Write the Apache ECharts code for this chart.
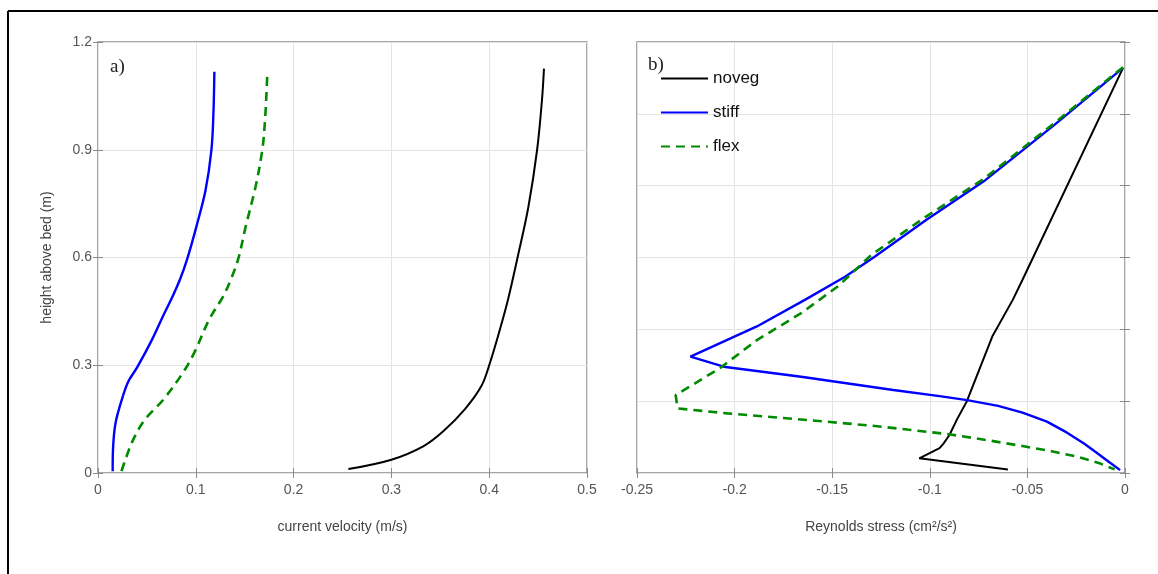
<!DOCTYPE html>
<html>
<head>
<meta charset="utf-8">
<script src="https://cdn.jsdelivr.net/npm/echarts@6/dist/echarts.min.js"></script>
<style>
    html, body { margin: 0; padding: 0; background: #fff; }
    #main { width: 1158px; height: 574px; }
</style>
</head>
<body>
<div id="main"></div>
<script>
// a) current velocity profiles (m/s) vs height above bed (m)
var velNovegX = [0.256, 0.300, 0.333, 0.353, 0.375, 0.392, 0.400, 0.411, 0.419, 0.429, 0.440, 0.449, 0.454, 0.456];
var velNovegY = [0.011, 0.037, 0.075, 0.116, 0.177, 0.242, 0.300, 0.400, 0.480, 0.600, 0.740, 0.900, 1.040, 1.126];
var velStiffX = [0.015, 0.0155, 0.018, 0.025, 0.031, 0.040, 0.055, 0.067, 0.076, 0.084, 0.091, 0.1006, 0.110, 0.116, 0.118, 0.119];
var velStiffY = [0.005, 0.075, 0.140, 0.210, 0.255, 0.294, 0.370, 0.440, 0.490, 0.540, 0.594, 0.686, 0.788, 0.900, 1.000, 1.117];
var velFlexX = [0.024, 0.028, 0.036, 0.048, 0.067, 0.087, 0.0986, 0.114, 0.128, 0.136, 0.1436, 0.151, 0.161, 0.168, 0.171, 0.173];
var velFlexY = [0.005, 0.037, 0.093, 0.149, 0.205, 0.280, 0.336, 0.429, 0.492, 0.540, 0.598, 0.686, 0.796, 0.900, 0.992, 1.103];

// b) Reynolds stress (cm2/s2) vs height above bed (m)
var rsNovegX = [-0.001, -0.0525, -0.0575, -0.068, -0.081, -0.086, -0.090, -0.093, -0.095, -0.1054, -0.060];
var rsNovegY = [1.128, 0.538, 0.482, 0.380, 0.200, 0.150, 0.105, 0.082, 0.069, 0.041, 0.010];
var rsStiffX = [-0.001, -0.036, -0.0714, -0.1017, -0.1281, -0.1432, -0.164, -0.1886, -0.2226, -0.2056, -0.1659, -0.1187, -0.095, -0.0809, -0.065, -0.0525, -0.040, -0.0299, -0.021, -0.0147, -0.008, -0.0025];
var rsStiffY = [1.128, 0.970, 0.816, 0.705, 0.603, 0.547, 0.482, 0.408, 0.324, 0.296, 0.268, 0.231, 0.214, 0.203, 0.187, 0.168, 0.143, 0.113, 0.082, 0.057, 0.030, 0.008];
var rsFlexX = [-0.001, -0.036, -0.072, -0.103, -0.130, -0.147, -0.1659, -0.1886, -0.2075, -0.2302, -0.2292, -0.2037, -0.1659, -0.1281, -0.0903, -0.070, -0.0525, -0.037, -0.0242, -0.013, -0.0053];
var rsFlexY = [1.130, 0.975, 0.820, 0.710, 0.607, 0.520, 0.445, 0.370, 0.292, 0.217, 0.180, 0.166, 0.149, 0.131, 0.108, 0.091, 0.075, 0.060, 0.045, 0.027, 0.010];

var seriesNames = ['noveg', 'stiff', 'flex'];
var velXTicks = { min: 0, max: 0.5, interval: 0.1 };
var rsXTicks = { min: -0.25, max: 0, interval: 0.05 };
var heightTicksA = { min: 0, max: 1.2, interval: 0.3 };
var heightTicksB = { min: 0, max: 1.2, interval: 0.2 };

var pairs = function (xs, ys) {
    return xs.map(function (x, i) { return [x, ys[i]]; });
};

var font = 'Liberation Sans, Arial, sans-serif';
var styles = {
    noveg: { color: '#000000', width: 2, type: 'solid' },
    stiff: { color: '#0000ff', width: 2.4, type: 'solid' },
    flex: { color: '#008a00', width: 2.6, type: [9, 6] }
};

var makeSeries = function (name, xs, ys, idx, smooth) {
    var st = styles[name];
    return {
        name: name,
        type: 'line',
        xAxisIndex: idx,
        yAxisIndex: idx,
        data: pairs(xs, ys),
        symbol: 'none',
        showSymbol: false,
        smooth: smooth,
        itemStyle: { color: st.color },
        lineStyle: { color: st.color, width: st.width, type: st.type }
    };
};

var tickStyle = { inside: true, length: 5, lineStyle: { color: '#8a8a8a', width: 1 } };
var splitStyle = { show: true, lineStyle: { color: '#e4e4e4', width: 1 } };
var labelStyle = { color: '#555', fontSize: 14, fontFamily: font };

var mainAxis = function (ticks, grid, extra) {
    var ax = {
        type: 'value',
        gridIndex: grid,
        min: ticks.min,
        max: ticks.max,
        interval: ticks.interval,
        axisLine: { show: false },
        axisTick: tickStyle,
        splitLine: splitStyle,
        axisLabel: labelStyle
    };
    for (var k in extra) { ax[k] = extra[k]; }
    return ax;
};

var mirrorAxis = function (ticks, grid, position) {
    return {
        type: 'value',
        gridIndex: grid,
        position: position,
        min: ticks.min,
        max: ticks.max,
        interval: ticks.interval,
        axisLine: { show: false },
        axisTick: tickStyle,
        splitLine: { show: false },
        axisLabel: { show: false }
    };
};

var nameStyle = { color: '#444', fontSize: 14, fontFamily: font };

var myChart = echarts.init(document.getElementById('main'));
var option = {
    animation: false,
    backgroundColor: '#fff',
    grid: [
        { left: 98, top: 42, width: 489, height: 431, show: true, borderColor: '#8a8a8a', borderWidth: 1.5, backgroundColor: 'transparent' },
        { left: 637, top: 42, width: 488, height: 431, show: true, borderColor: '#8a8a8a', borderWidth: 1.5, backgroundColor: 'transparent' }
    ],
    xAxis: [
        mainAxis(velXTicks, 0, { name: 'current velocity (m/s)', nameLocation: 'middle', nameGap: 47, nameTextStyle: nameStyle, axisLabel: { color: '#555', fontSize: 14, fontFamily: font, margin: 10 } }),
        mainAxis(rsXTicks, 1, {
            name: 'Reynolds stress (cm²/s²)', nameLocation: 'middle', nameGap: 47, nameTextStyle: nameStyle,
            axisLabel: { color: '#555', fontSize: 14, fontFamily: font, margin: 10, formatter: function (v) { return v === 0 ? '0' : String(Math.round(v * 100) / 100); } }
        }),
        mirrorAxis(velXTicks, 0, 'top'),
        mirrorAxis(rsXTicks, 1, 'top')
    ],
    yAxis: [
        mainAxis(heightTicksA, 0, { name: 'height above bed (m)', nameLocation: 'middle', nameGap: 44, nameTextStyle: nameStyle, axisLabel: { color: '#555', fontSize: 14, fontFamily: font, margin: 6 } }),
        mainAxis(heightTicksB, 1, { axisLabel: { show: false } }),
        mirrorAxis(heightTicksA, 0, 'right'),
        mirrorAxis(heightTicksB, 1, 'right')
    ],
    legend: {
        data: seriesNames,
        orient: 'vertical',
        left: 660,
        top: 70,
        itemWidth: 47,
        itemHeight: 14,
        itemGap: 17,
        padding: 0,
        itemStyle: { opacity: 0 },
        textStyle: { color: '#111', fontSize: 17, fontFamily: font }
    },
    graphic: [
        { type: 'line', shape: { x1: 8, y1: 11, x2: 1158, y2: 11 }, style: { stroke: '#000', lineWidth: 2 } },
        { type: 'line', shape: { x1: 8, y1: 11, x2: 8, y2: 574 }, style: { stroke: '#000', lineWidth: 2 } },
        { type: 'text', left: 110, top: 58, style: { text: 'a)', fontSize: 19, fontFamily: 'Liberation Serif, Times New Roman, serif', fill: '#222' } },
        { type: 'text', left: 648, top: 56, style: { text: 'b)', fontSize: 19, fontFamily: 'Liberation Serif, Times New Roman, serif', fill: '#222' } }
    ],
    series: [
        makeSeries('noveg', velNovegX, velNovegY, 0, 0.35),
        makeSeries('stiff', velStiffX, velStiffY, 0, 0.35),
        makeSeries('flex', velFlexX, velFlexY, 0, 0.35),
        makeSeries('noveg', rsNovegX, rsNovegY, 1, false),
        makeSeries('stiff', rsStiffX, rsStiffY, 1, false),
        makeSeries('flex', rsFlexX, rsFlexY, 1, false)
    ]
};
myChart.setOption(option);
</script>
</body>
</html>
